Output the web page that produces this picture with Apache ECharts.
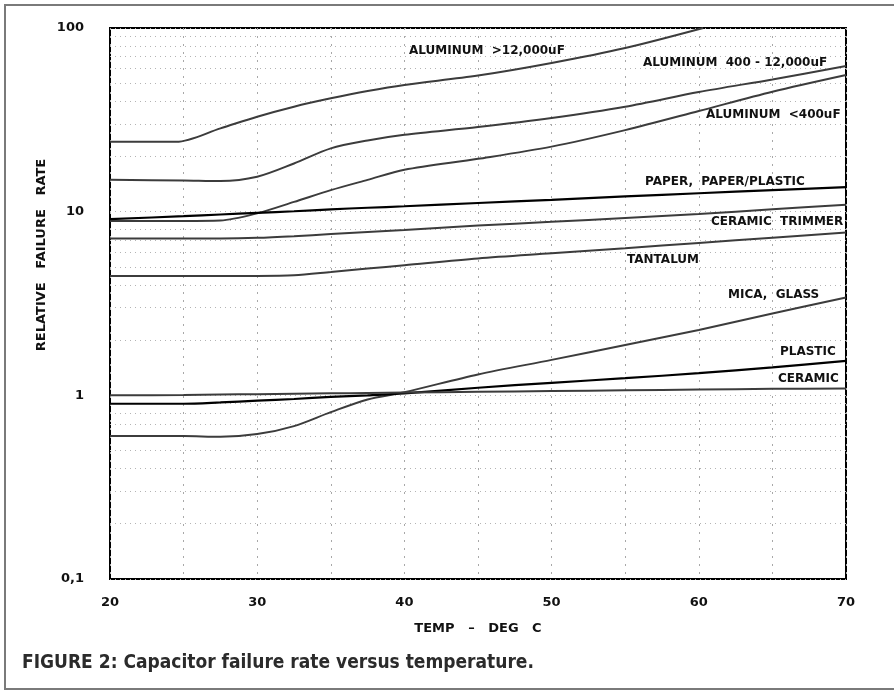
<!DOCTYPE html>
<html>
<head>
<meta charset="utf-8">
<script src="https://cdn.jsdelivr.net/npm/echarts@6/dist/echarts.min.js"></script>
<style>
html,body{margin:0;padding:0;background:#fff;}
#chart{width:894px;height:690px;}
</style>
</head>
<body>
<div id="chart"></div>
<script>
// ---- Data ----
const temps = [20, 25, 27.5, 30, 32.5, 35, 37.5, 40, 45, 50, 55, 60, 65, 70];
const alBigTemps = [20, 24.5, 27.5, 30, 32.5, 35, 37.5, 40, 45, 50, 55, 60.3];
const aluminumBig = [24, 24, 28.4, 32.9, 37.3, 41.4, 45.4, 49, 55.1, 64.5, 77.8, 100];
const aluminumMid = [14.9, 14.8, 14.7, 15.5, 18.3, 22.1, 24.4, 26.2, 28.9, 32.4, 37.3, 44.8, 52.5, 62.1];
const aluminumSmall = [8.9, 8.9, 8.95, 9.8, 11.3, 13.1, 14.9, 16.9, 19.4, 22.6, 27.8, 35.3, 45.0, 55.5];
const paper = [9.1, 9.45, 9.65, 9.85, 10.05, 10.3, 10.5, 10.7, 11.15, 11.6, 12.1, 12.6, 13.1, 13.6];
const ceramicTrimmer = [7.15, 7.15, 7.15, 7.2, 7.35, 7.55, 7.75, 7.95, 8.4, 8.8, 9.25, 9.7, 10.3, 10.9];
const tantalum = [4.47, 4.47, 4.47, 4.47, 4.5, 4.69, 4.9, 5.11, 5.56, 5.93, 6.32, 6.76, 7.22, 7.69];
const micaGlass = [0.60, 0.60, 0.595, 0.615, 0.68, 0.81, 0.95, 1.04, 1.3, 1.56, 1.88, 2.27, 2.79, 3.41];
const plastic = [0.9, 0.9, 0.915, 0.935, 0.955, 0.98, 1.0, 1.025, 1.1, 1.17, 1.24, 1.32, 1.42, 1.54];
const ceramic = [1.0, 1.005, 1.01, 1.015, 1.02, 1.025, 1.03, 1.035, 1.045, 1.055, 1.065, 1.075, 1.085, 1.09];
const yTickLabels = {0.1: '0,1', 1: '1', 10: '10', 100: '100'};
const xTickLabels = [20, 30, 40, 50, 60, 70];
const minorGridValues = [0.2,0.3,0.4,0.5,0.6,0.7,0.8,0.9, 2,3,4,5,6,7,8,9, 20,30,40,50,60,70,80,90];
const curveLabels = [
  {text: 'ALUMINUM  >12,000uF', x: 409, y: 51},
  {text: 'ALUMINUM  400 - 12,000uF', x: 643, y: 63},
  {text: 'ALUMINUM  <400uF', x: 706, y: 115},
  {text: 'PAPER,  PAPER/PLASTIC', x: 645, y: 182},
  {text: 'CERAMIC  TRIMMER', x: 711, y: 222},
  {text: 'TANTALUM', x: 627, y: 260},
  {text: 'MICA,  GLASS', x: 728, y: 295},
  {text: 'PLASTIC', x: 780, y: 352},
  {text: 'CERAMIC', x: 778, y: 379}
];

function pairs(xs, ys){ return xs.map((x,i)=>[x, ys[i]]); }

const gray = '#3c3c3c';
const black = '#000';
function lineSeries(name, data, color, width){
  return {
    name: name, type: 'line', data: data, showSymbol: false, symbol: 'none',
    smooth: 0.3, silent: true,
    lineStyle: {color: color, width: width}, z: 5
  };
}

const series = [
  lineSeries('Aluminum >12,000uF', pairs(alBigTemps, aluminumBig), gray, 2),
  lineSeries('Aluminum 400-12,000uF', pairs(temps, aluminumMid), gray, 2),
  lineSeries('Aluminum <400uF', pairs(temps, aluminumSmall), gray, 2),
  lineSeries('Paper, paper/plastic', pairs(temps, paper), black, 2.2),
  lineSeries('Ceramic trimmer', pairs(temps, ceramicTrimmer), gray, 2),
  lineSeries('Tantalum', pairs(temps, tantalum), gray, 2),
  lineSeries('Mica, glass', pairs(temps, micaGlass), gray, 2),
  lineSeries('Plastic', pairs(temps, plastic), black, 2.2),
  lineSeries('Ceramic', pairs(temps, ceramic), gray, 2)
];
series[0].markLine = {
  silent: true, symbol: ['none','none'], animation: false,
  label: {show: false},
  lineStyle: {color: '#b4b4b4', type: [1, 4], width: 1},
  data: minorGridValues.map(v => ({yAxis: v}))
};

const labelFont = 'bold 12px "DejaVu Sans", sans-serif';
const graphics = curveLabels.map(l => ({
  type: 'text', x: l.x, y: l.y, z: 10,
  style: {text: l.text, font: labelFont, fill: '#111', textVerticalAlign: 'middle'}
}));
graphics.push({
  type: 'text', z: 10,
  x: 42, y: 255, rotation: Math.PI / 2,
  style: {text: 'RELATIVE   FAILURE   RATE', font: 'bold 13px "DejaVu Sans", sans-serif', fill: '#111', textAlign: 'center', textVerticalAlign: 'middle'}
});
graphics.push({
  type: 'text', z: 10, x: 478, y: 629,
  style: {text: 'TEMP   –   DEG   C', font: 'bold 13px "DejaVu Sans", sans-serif', fill: '#111', textAlign: 'center', textVerticalAlign: 'middle'}
});
graphics.push({
  type: 'text', z: 10, x: 22, y: 663,
  style: {text: 'FIGURE 2: Capacitor failure rate versus temperature.', font: 'bold 19px "Liberation Sans Narrow", "DejaVu Sans Condensed", sans-serif', fill: '#2b2b2b', textVerticalAlign: 'middle'}
});
graphics.push({
  type: 'rect', z: 0, shape: {x: 5, y: 5, width: 905, height: 684},
  style: {fill: 'none', stroke: '#7a7a7a', lineWidth: 2}
});

const chart = echarts.init(document.getElementById('chart'), null, {renderer: 'canvas'});
chart.setOption({
  animation: false,
  backgroundColor: '#fff',
  grid: {left: 110, top: 28, right: 48, bottom: 111, show: true, borderColor: '#000', borderWidth: 2, backgroundColor: 'transparent'},
  xAxis: {
    type: 'value', min: 20, max: 70, interval: 5,
    axisLine: {show: false}, axisTick: {show: false},
    axisLabel: {
      margin: 17, color: '#111', fontFamily: 'DejaVu Sans', fontWeight: 'bold', fontSize: 13,
      formatter: v => xTickLabels.indexOf(v) >= 0 ? String(v) : ''
    },
    splitLine: {show: true, lineStyle: {color: '#a8a8a8', type: [2, 6], width: 1}}
  },
  yAxis: {
    type: 'log', logBase: 10, min: 0.1, max: 100,
    axisLine: {show: false}, axisTick: {show: false},
    axisLabel: {
      margin: 26, color: '#111', fontFamily: 'DejaVu Sans', fontWeight: 'bold', fontSize: 13,
      padding: [0, 0, 14, 0],
      formatter: v => yTickLabels[v] !== undefined ? yTickLabels[v] : String(v)
    },
    splitLine: {show: true, lineStyle: {color: '#b4b4b4', type: [1, 4], width: 1}}
  },
  graphic: graphics,
  series: series
});
</script>
</body>
</html>
